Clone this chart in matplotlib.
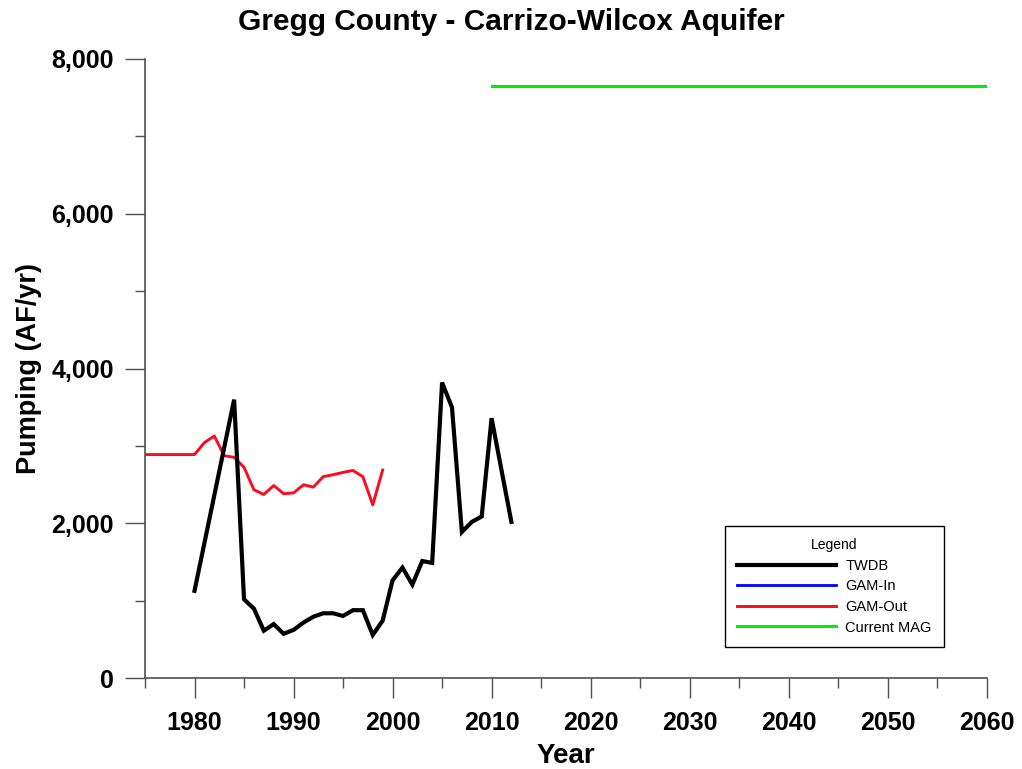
import matplotlib
matplotlib.use("Agg")
import matplotlib.pyplot as plt
from matplotlib.ticker import MultipleLocator, FuncFormatter

# TWDB historical pumping (AF/yr)
twdb_years = [1980, 1984, 1985, 1986, 1987, 1988, 1989, 1990, 1991, 1992,
              1993, 1994, 1995, 1996, 1997, 1998, 1999, 2000, 2001, 2002,
              2003, 2004, 2005, 2006, 2007, 2008, 2009, 2010, 2012]
twdb_vals = [1130, 3600, 1020, 900, 615, 700, 575, 625, 720, 795,
             840, 840, 805, 880, 880, 560, 745, 1265, 1430, 1210,
             1515, 1490, 3820, 3500, 1890, 2020, 2090, 3360, 2020]

# GAM output pumping
gam_out_years = [1975, 1976, 1977, 1978, 1979, 1980, 1981, 1982, 1983, 1984,
                 1985, 1986, 1987, 1988, 1989, 1990, 1991, 1992, 1993, 1994,
                 1995, 1996, 1997, 1998, 1999]
gam_out_vals = [2890, 2890, 2890, 2890, 2890, 2890, 3045, 3130, 2875, 2855,
                2725, 2435, 2375, 2490, 2385, 2395, 2500, 2470, 2605, 2630,
                2660, 2685, 2605, 2240, 2690]

# GAM input (no values in this county)
gam_in_years = []
gam_in_vals = []

# current modeled available groundwater
mag_years = [2010, 2060]
mag_vals = [7655, 7655]

fig = plt.figure(figsize=(10.22, 7.69), dpi=100)
ax = fig.add_axes([145 / 1022, 1 - 678.3 / 769, 841.7 / 1022, 619.3 / 769])

ax.plot(twdb_years, twdb_vals, color="black", lw=3.0, label="TWDB",
        solid_joinstyle="miter", zorder=4)
ax.plot(gam_in_years, gam_in_vals, color="#0000ff", lw=2.0, label="GAM-In")
ax.plot(gam_out_years, gam_out_vals, color="#ff0a1e", lw=2.1, label="GAM-Out",
        zorder=3)
ax.plot(mag_years, mag_vals, color="#00ee00", lw=2.2, label="Current MAG")

ax.set_xlim(1975, 2060)
ax.set_ylim(0, 8000)

for side in ("top", "right"):
    ax.spines[side].set_visible(False)
for side in ("left", "bottom"):
    ax.spines[side].set_color("#505050")
    ax.spines[side].set_linewidth(1.2)
ax.spines["left"].set_zorder(1)

ax.xaxis.set_major_locator(MultipleLocator(10))
ax.xaxis.set_minor_locator(MultipleLocator(5))
ax.yaxis.set_major_locator(MultipleLocator(2000))
ax.yaxis.set_minor_locator(MultipleLocator(1000))
ax.yaxis.set_major_formatter(FuncFormatter(lambda v, p: f"{int(v):,}"))

ax.tick_params(which="major", length=14.5, width=1, color="#505050")
ax.tick_params(which="minor", length=7, width=1, color="#505050")
ax.tick_params(axis="y", which="major", pad=8)
ax.tick_params(axis="x", which="major", pad=9)

for lbl in ax.get_yticklabels():
    lbl.set_family("Liberation Sans")
    lbl.set_fontweight("bold")
    lbl.set_fontsize(18)
for lbl in ax.get_xticklabels():
    lbl.set_family("Liberation Sans")
    lbl.set_fontweight("bold")
    lbl.set_fontsize(18)

ax.set_ylabel("Pumping (AF/yr)", family="Liberation Sans", fontweight="bold",
              fontsize=19.5)
ax.yaxis.set_label_coords(-0.1224, 0.5)
ax.set_xlabel("Year", family="Liberation Sans", fontweight="bold", fontsize=20)
ax.xaxis.set_label_coords(0.5, -0.105)

fig.suptitle("Gregg County - Carrizo-Wilcox Aquifer", family="Liberation Sans",
             fontweight="bold", fontsize=21.5, x=0.5, y=0.971, va="center")

leg = ax.legend(loc="upper left", bbox_to_anchor=(0.689, 0.246),
                title="Legend", title_fontsize=10,
                handlelength=6.8, handletextpad=0.6, labelspacing=0.45,
                borderpad=0.85, borderaxespad=0, fancybox=False,
                framealpha=1, edgecolor="black",
                prop={"family": "Liberation Sans", "size": 10.5})
leg.get_frame().set_linewidth(1.0)
leg.get_title().set_family("Liberation Sans")

fig.savefig("out.png", dpi=100)
